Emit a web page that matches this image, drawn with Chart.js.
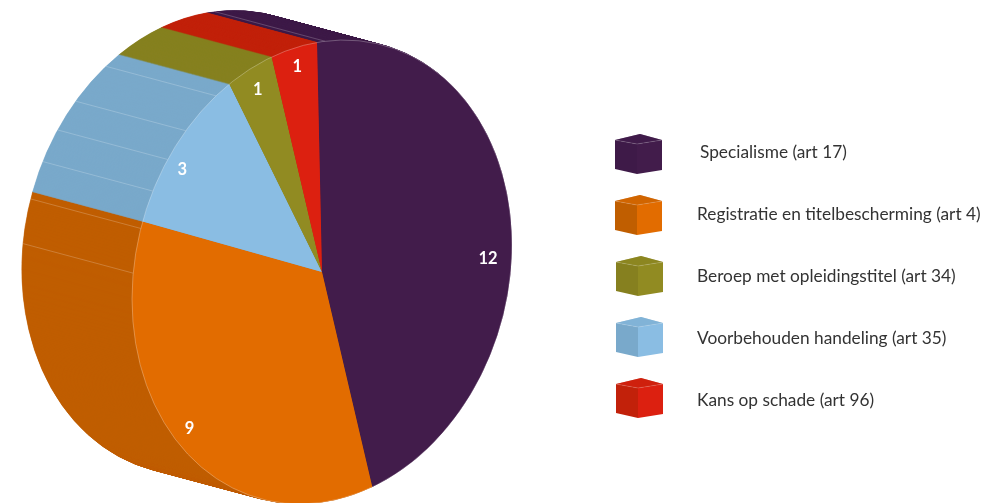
<!DOCTYPE html>
<html>
<head>
<meta charset="utf-8">
<style>
html, body { margin: 0; padding: 0; background: #fff; overflow: hidden; }
#wrap { position: relative; width: 987px; height: 503px; }
canvas { display: block; }
</style>
<script src="https://cdn.jsdelivr.net/npm/chart.js@4"></script>
</head>
<body>
<div id="wrap"><canvas id="myPie" width="987" height="503"></canvas></div>
<script>
var categories = ['Specialisme (art 17)', 'Registratie en titelbescherming (art 4)', 'Beroep met opleidingstitel (art 34)', 'Voorbehouden handeling (art 35)', 'Kans op schade (art 96)'];
var values = [12, 9, 3, 1, 1];
var sliceOrder = [0, 1, 3, 2, 4];
var topColors = ['#421c4b', '#e26c00', '#918b22', '#8abde3', '#dc2010'];
var sideColors = ['#3e1a48', '#c05e00', '#86801f', '#79a9cb', '#c2210a'];
var legendTextX = [700, 697, 697, 697, 697];
// slight per label shift along the rim, degrees
var labelAngleShift = [11, 2.7, -4, 0.3, 0.3];
var labelRadius = [0.875, 0.915, 0.91, 0.905, 0.92];
// seams on the side wall, degrees clockwise from the top
var seamAngles = [0.9, -33.9, -45.8, -54.3, -62.9, -72.5, -83.6];

var sideX = -110, sideY = -29.5;
var shear = -27 / 190, stretch = 230.4 / 190;

function faceTransform(ctx, x, y) {
    ctx.translate(x, y);
    ctx.transform(1, shear, 0, stretch, 0, 0);
    ctx.translate(-x, -y);
}

function slicePath(ctx, arc) {
    ctx.beginPath();
    ctx.moveTo(arc.x, arc.y);
    ctx.arc(arc.x, arc.y, arc.outerRadius, arc.startAngle, arc.endAngle);
    ctx.closePath();
}

var tiltPlugin = {
    id: 'tilt',
    beforeDatasetsDraw: function (chart) {
        var ctx = chart.ctx;
        var arcs = chart.getDatasetMeta(0).data;
        var steps = 220;

        // side wall: sweep the slices from the back to the front
        for (var s = steps; s > 0; s--) {
            ctx.save();
            ctx.translate(sideX * s / steps, sideY * s / steps);
            faceTransform(ctx, arcs[0].x, arcs[0].y);
            arcs.forEach(function (arc, i) {
                slicePath(ctx, arc);
                ctx.fillStyle = sideColors[sliceOrder[i]];
                ctx.strokeStyle = sideColors[sliceOrder[i]];
                ctx.lineWidth = 0.5;
                ctx.fill();
                ctx.stroke();
            });
            ctx.restore();
        }

        var cx = arcs[0].x, cy = arcs[0].y, r = arcs[0].outerRadius;
        ctx.save();
        ctx.strokeStyle = 'rgba(255,255,255,0.3)';
        ctx.lineWidth = 0.7;
        seamAngles.forEach(function (deg) {
            var a = deg * Math.PI / 180;
            var px = r * Math.sin(a), py = -r * Math.cos(a);
            var sx = cx + px, sy = cy + shear * px + stretch * py;
            ctx.beginPath();
            ctx.moveTo(sx, sy);
            ctx.lineTo(sx + sideX, sy + sideY);
            ctx.stroke();
        });
        ctx.restore();

        ctx.save();
        faceTransform(ctx, cx, cy);
    },
    afterDatasetsDraw: function (chart) {
        var ctx = chart.ctx;
        var arcs = chart.getDatasetMeta(0).data;

        // thin light rim on the top face, still in the tilted space
        ctx.strokeStyle = 'rgba(255,255,255,0.4)';
        ctx.lineWidth = 0.6;
        ctx.beginPath();
        ctx.arc(arcs[0].x, arcs[0].y, arcs[0].outerRadius, 0, Math.PI * 2);
        ctx.stroke();
        ctx.restore();

        ctx.save();
        ctx.fillStyle = '#fff';
        ctx.font = 'bold 16.5px Lato';
        ctx.textAlign = 'center';
        ctx.textBaseline = 'middle';
        arcs.forEach(function (arc, i) {
            var mid = (arc.startAngle + arc.endAngle) / 2 + labelAngleShift[i] * Math.PI / 180;
            var px = arc.outerRadius * labelRadius[i] * Math.cos(mid);
            var py = arc.outerRadius * labelRadius[i] * Math.sin(mid);
            ctx.fillText(values[i], arc.x + px, arc.y + shear * px + stretch * py + 1.5);
        });
        ctx.restore();

        drawLegend(ctx);
    }
};

function drawLegend(ctx) {
    categories.forEach(function (name, row) {
        var x = 615 + (row > 1 ? 1 : 0), y = 134 + row * 61;
        ctx.fillStyle = sideColors[row];
        ctx.beginPath();
        ctx.moveTo(x, y + 6);
        ctx.lineTo(x + 22, y + 10);
        ctx.lineTo(x + 22, y + 40);
        ctx.lineTo(x, y + 35);
        ctx.closePath();
        ctx.fill();

        ctx.fillStyle = topColors[row];
        ctx.beginPath();
        ctx.moveTo(x + 22, y + 10);
        ctx.lineTo(x + 47, y + 6);
        ctx.lineTo(x + 47, y + 36);
        ctx.lineTo(x + 22, y + 40);
        ctx.closePath();
        ctx.fill();

        // lid of the cube sits between the two wall colours
        ctx.beginPath();
        ctx.moveTo(x, y + 6);
        ctx.lineTo(x + 25, y);
        ctx.lineTo(x + 47, y + 6);
        ctx.lineTo(x + 22, y + 10);
        ctx.closePath();
        ctx.fillStyle = sideColors[row];
        ctx.fill();
        ctx.globalAlpha = 0.5;
        ctx.fillStyle = topColors[row];
        ctx.fill();
        ctx.globalAlpha = 1;

        ctx.strokeStyle = 'rgba(255,255,255,0.25)';
        ctx.lineWidth = 0.6;
        ctx.beginPath();
        ctx.moveTo(x, y + 6);
        ctx.lineTo(x + 22, y + 10);
        ctx.lineTo(x + 47, y + 6);
        ctx.stroke();

        ctx.fillStyle = '#333';
        ctx.font = '17.3px Lato';
        ctx.textAlign = 'left';
        ctx.textBaseline = 'middle';
        ctx.fillText(name, legendTextX[row], 152 + row * 62);
    });
}

var ctx = document.getElementById('myPie').getContext('2d');

new Chart(ctx, {
    type: 'pie',
    data: {
        labels: sliceOrder.map(function (k) { return categories[k]; }),
        datasets: [{
            data: values,
            backgroundColor: sliceOrder.map(function (k) { return topColors[k]; }),
            borderWidth: 0
        }]
    },
    options: {
        responsive: false,
        animation: false,
        rotation: -1.5,
        layout: {
            padding: { left: 132, right: 475, top: 82, bottom: 41 }
        },
        plugins: {
            legend: { display: false },
            tooltip: { enabled: false }
        }
    },
    plugins: [tiltPlugin]
});
</script>
</body>
</html>
